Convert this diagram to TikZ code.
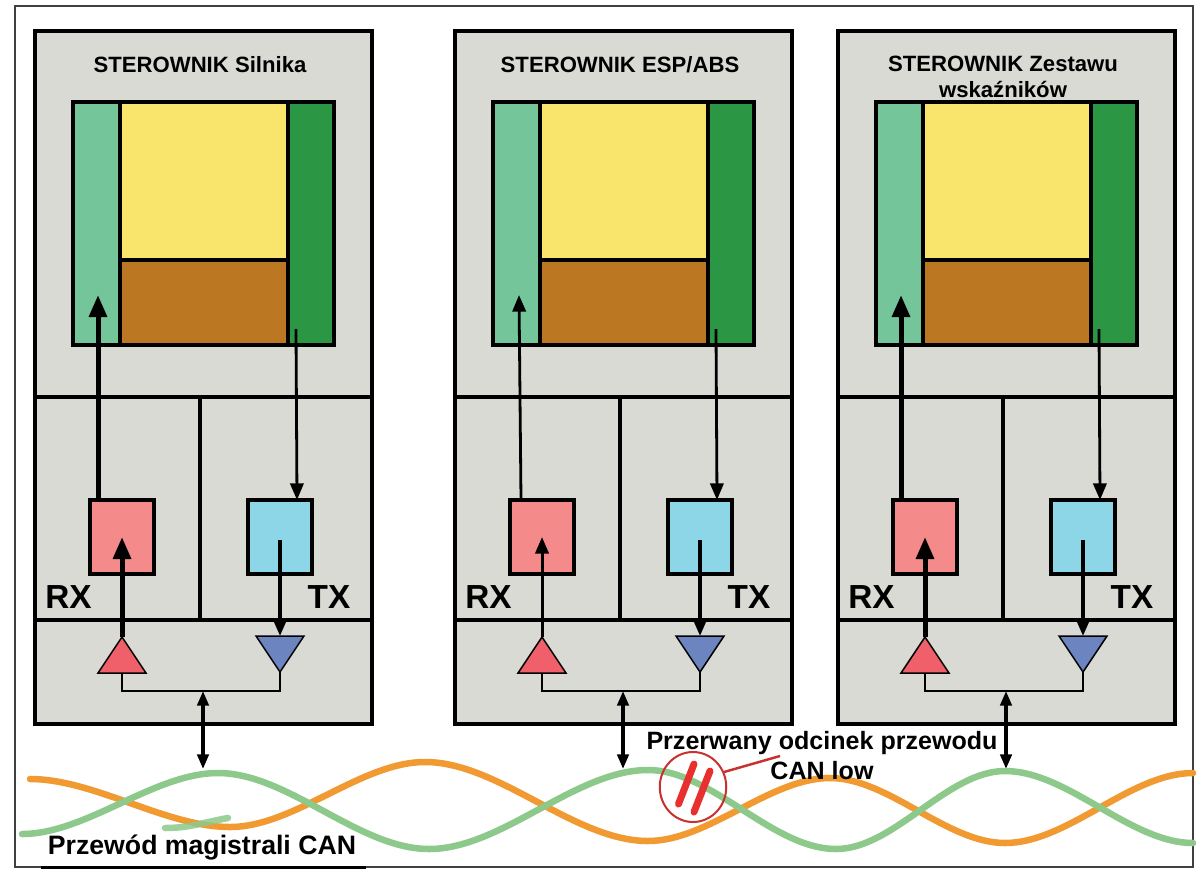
\documentclass[tikz,border=0pt]{standalone}
\usepackage{fontspec}
\setmainfont{Liberation Sans}
\usetikzlibrary{arrows.meta,calc}
\definecolor{panel}{HTML}{D9DAD3}
\definecolor{lgreen}{HTML}{74C69A}
\definecolor{dgreen}{HTML}{2B9644}
\definecolor{yel}{HTML}{F9E46C}
\definecolor{brn}{HTML}{BC7723}
\definecolor{pinkb}{HTML}{F58A8A}
\definecolor{cyanb}{HTML}{8CD6E8}
\definecolor{redt}{HTML}{F0606A}
\definecolor{bluet}{HTML}{6C85C0}
\definecolor{wireo}{HTML}{F29A32}
\definecolor{wireg}{HTML}{8CC98A}
\definecolor{redm}{HTML}{E8312E}
\definecolor{redc}{HTML}{C8322E}
\tikzset{
  px/.style={line width=#1*0.75pt},
  box/.style={draw=black,px=4,fill=#1,inner sep=0pt,outer sep=0pt},
  rxtx/.style={draw=black,px=4,fill=#1,inner sep=0pt,outer sep=0pt,minimum width=64\pxu,minimum height=74\pxu},
  title/.style={font=\bfseries\fontsize{16.6pt}{20pt}\selectfont,align=center,inner sep=0pt},
  rxlabel/.style={font=\bfseries\fontsize{25pt}{26pt}\selectfont,inner sep=0pt},
  bigtext/.style={font=\bfseries\fontsize{20pt}{24pt}\selectfont,align=center,inner sep=0pt},
  bigtip/.style={-{Triangle[length=16.5pt,width=13pt]}},
  midtip/.style={-{Triangle[length=12.5pt,width=10pt]}},
  bus/.style={{Triangle[length=11pt,width=8.5pt]}-{Triangle[length=11pt,width=8.5pt]},px=3.5},
  wire/.style={line cap=round,line join=round,px=6.5},
  wave/.style={out=0,in=180,looseness=0.8},
}
\newlength{\pxu}\setlength{\pxu}{0.75pt}
% #1 id, #2 dx, #3 title, #4 title y, #5 RX upper arrow, #6 RX lower arrow, #7 foot x, #8 head x
\newcommand{\ctrl}[8]{%
\begin{scope}[shift={(#2,0)}]
  \node[box=panel,minimum width=337\pxu,minimum height=693\pxu] (o#1) at (203.5,377.5) {};
  \coordinate (dl#1) at (35,397); \coordinate (dr#1) at (372,397);
  \coordinate (el#1) at (35,620); \coordinate (er#1) at (372,620);
  \coordinate (vb#1) at (200,620); \coordinate (vt#1) at (200,397);
  \draw[px=4] (dl#1) -- (dr#1);
  \draw[px=4] (el#1) -- (er#1);
  \draw[px=4] (vt#1) -- (vb#1);
  \node[box=lgreen,minimum width=47\pxu,minimum height=243\pxu] (a#1) at (96.5,223.5) {};
  \node[box=yel,minimum width=168\pxu,minimum height=158\pxu] (y#1) at (204,181) {};
  \node[box=brn,minimum width=168\pxu,minimum height=85\pxu] (b#1) at (204,302.5) {};
  \node[box=dgreen,minimum width=46\pxu,minimum height=243\pxu] (c#1) at (311,223.5) {};
  \node[rxtx=pinkb] (rx#1) at (122,537) {};
  \node[rxtx=cyanb] (tx#1) at (280,537) {};
  \node[rxlabel] (rl#1) at (68.5,597) {RX};
  \node[rxlabel] (tl#1) at (329,597) {TX};
  \node[title] (t#1) at (200,#4) {#3};
  \coordinate (ru#1) at (#7,500); \coordinate (rv#1) at (#8,295);
  \coordinate (tu#1) at (296,329); \coordinate (tv#1) at (297,500);
  \coordinate (ri#1) at (122,537); \coordinate (ti#1) at (280,540);
  \draw[px=1.5,fill=redt] (122,637) -- (146,673) -- (98,673) -- cycle;
  \draw[px=1.5,fill=bluet] (256,636) -- (304,636) -- (280,672) -- cycle;
  \coordinate (rb#1) at (122,637); \coordinate (tb#1) at (280,636);
  \coordinate (rw#1) at (122,673); \coordinate (tw#1) at (280,672);
  \coordinate (mw#1) at (203,691); \coordinate (bt#1) at (203,769);
  \draw[px=1.5] (rw#1) |- (mw#1) -| (tw#1);
  \draw[#5] (ru#1) -- (rv#1);
  \draw[#6] (rb#1) -- (ri#1);
  \draw[midtip,px=2.8] (tu#1) -- (tv#1);
  \draw[midtip,px=3.5] (ti#1) -- (tb#1);
  \draw[bus] (mw#1) -- (bt#1);
\end{scope}}
\begin{document}
\begin{tikzpicture}[x=0.75pt,y=-0.75pt]
\useasboundingbox (0,0) rectangle (1202,872);
\fill[white] (0,0) rectangle (1202,872);
\coordinate (f1) at (15,6); \coordinate (f2) at (1193,867);
\draw[px=1.2,draw=black!75] (f1) rectangle (f2);
\ctrl{1}{0}{STEROWNIK Silnika}{65}{bigtip,px=5}{bigtip,px=5}{98}{98}
\ctrl{2}{420}{STEROWNIK ESP/ABS}{65}{midtip,px=2.8}{midtip,px=3}{101}{99}
\ctrl{3}{803}{STEROWNIK Zestawu\\wskaźników}{77}{bigtip,px=5}{bigtip,px=5}{98}{98}
% wires
\coordinate (o0) at (30,779); \coordinate (o1) at (230,827); \coordinate (o2) at (425,762);
\coordinate (o3) at (648,841); \coordinate (o4) at (830,778); \coordinate (o5) at (1005,843); \coordinate (o6) at (1193,773);
\coordinate (g0) at (22,834); \coordinate (g1) at (218,773); \coordinate (g2) at (429,849);
\coordinate (g3) at (648,770); \coordinate (g4) at (836,849); \coordinate (g5) at (1005,771); \coordinate (g6) at (1193,843);
\draw[wire,wireo] (o0) to[wave] (o1) to[wave] (o2) to[wave] (o3) to[wave] (o4) to[wave] (o5) to[wave] (o6);
\draw[wire,wireg] (g0) to[wave] (g1) to[wave] (g2) to[wave] (g3) to[wave] (g4) to[wave] (g5) to[wave] (g6);
\coordinate (s0) at (165,828); \coordinate (s1) at (228,818);
\draw[wire,wireg,opacity=.85] (s0) to[out=0,in=190] (s1);
% break marker
\node[draw=redc,px=2,circle,inner sep=0pt,minimum width=66\pxu,minimum height=70\pxu,xscale=0.95] (cut) at (693,787) {};
\coordinate (leader) at (780,756);
\draw[redc,px=2.5] (cut) ++(31,-15) -- (leader);
\coordinate (m1a) at (678.5,804); \coordinate (m1b) at (694,764);
\coordinate (m2a) at (694,812); \coordinate (m2b) at (710,771);
\draw[redm,px=7,line cap=round] (m1a) -- (m1b);
\draw[redm,px=7,line cap=round] (m2a) -- (m2b);
% labels
\node[bigtext,font=\bfseries\fontsize{18.8pt}{22.5pt}\selectfont] (brk) at (822,756) {Przerwany odcinek przewodu\\CAN low};
\node[bigtext] (lbl) at (202,848) {Przewód magistrali CAN};
\coordinate (u1) at (41,867); \coordinate (u2) at (366,867);
\draw[px=3] (u1) -- (u2);
\end{tikzpicture}
\end{document}
